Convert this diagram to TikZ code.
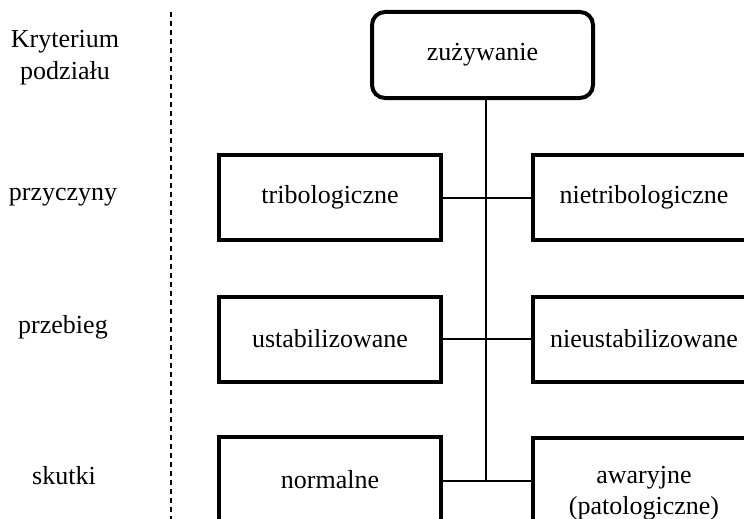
\documentclass[tikz,border=0pt]{standalone}
\usepackage{fontspec}
\setmainfont{Liberation Serif}
\usetikzlibrary{positioning}
\tikzset{
  catBox/.style={draw=drawColor,line width=4pt,minimum width=222pt,minimum height=85pt,inner sep=0pt,align=center},
  rootBox/.style={catBox,rounded corners=13pt,minimum width=221pt,minimum height=86pt},
  levelText/.style={inner sep=0pt,align=center},
  linkLine/.style={draw=drawColor,line width=2pt}
}
\begin{document}
\begin{tikzpicture}[x=1pt,y=-1pt,font=\fontsize{26}{31}\selectfont]
\definecolor{drawColor}{RGB}{0,0,0}
\path[use as bounding box] (0,0) rectangle (744,519);
\clip (0,0) rectangle (744,519);

\node[levelText,font=\fontsize{26}{32}\selectfont] (crit) at (65, 58) {Kryterium\\podziału};
\node[levelText] (cause) at (63,197) {przyczyny};
\node[levelText] (course) at (63,327) {przebieg};
\node[levelText] (effect) at (64,476) {skutki};

\path[draw=drawColor,line width=1.5pt,dash pattern=on 5pt off 4pt] (171,12) -- (171,519);

\node[rootBox] (wear) at (482.5,55) {zużywanie};

\node[catBox] (trib) at (330,197.5) {tribologiczne};
\node[catBox] (ntrib) at (644,197.5) {nietribologiczne};
\node[catBox] (stab) at (330,339) {ustabilizowane};
\node[catBox] (nstab) at (644,339) {nieustabilizowane};
\node[catBox] (norm) at (330,479.5) {normalne};
\node[catBox,minimum height=110pt] (fail) at (644,493) {awaryjne\\(patologiczne)};

\coordinate (trunk) at (486,481);
\path[linkLine] (wear.south -| trunk) -- (trunk);
\path[linkLine] (trib.east) -- (ntrib.west);
\path[linkLine] (stab.east) -- (nstab.west);
\path[linkLine] (norm.east |- trunk) -- (fail.west |- trunk);
\end{tikzpicture}
\end{document}
